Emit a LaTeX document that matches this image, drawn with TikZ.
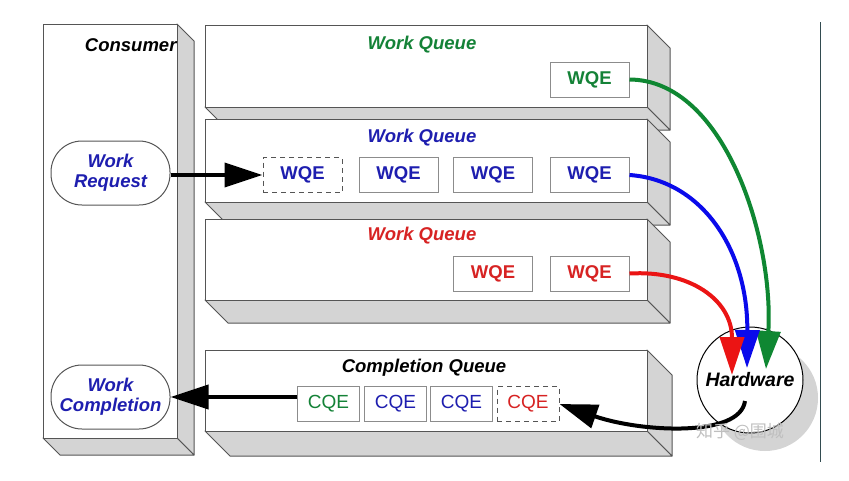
\documentclass[tikz,border=0pt]{standalone}
\usepackage{fontspec}
\setmainfont{Liberation Sans}
\newfontfamily\cjk{Noto Sans CJK SC}
\usetikzlibrary{arrows.meta}
\definecolor{qgreen}{RGB}{20,130,55}
\definecolor{qblue}{RGB}{30,30,175}
\definecolor{qred}{RGB}{215,35,35}
\definecolor{agreen}{RGB}{15,135,50}
\definecolor{ablue}{RGB}{10,10,235}
\definecolor{ared}{RGB}{235,20,20}
\definecolor{sidegray}{RGB}{212,212,212}
\definecolor{edgegray}{RGB}{85,85,85}
\definecolor{boxgray}{RGB}{140,140,140}
\newcommand\slabbox[5]{%
  \filldraw[fill=sidegray,draw=edgegray,line width=1pt,line join=round]
    (#3,#2) -- ++(#5,#5) -- (#3+#5,#4+#5) -- (#3,#4) -- cycle;
  \filldraw[fill=sidegray,draw=edgegray,line width=1pt,line join=round]
    (#1,#4) -- (#3,#4) -- (#3+#5,#4+#5) -- (#1+#5,#4+#5) -- cycle;
  \filldraw[fill=white,draw=edgegray,line width=1pt] (#1,#2) rectangle (#3,#4);
}
\tikzset{
  ttl/.style={font=\bfseries\itshape\fontsize{18.5}{20}\selectfont},
  elem/.style={draw=boxgray,line width=1pt,fill=white,minimum height=35pt,inner sep=0pt,
    font=\bfseries\fontsize{18.5}{20}\selectfont},
  welem/.style={elem,minimum width=79pt},
  celem/.style={elem,minimum width=62pt,font=\fontsize{19}{20}\selectfont},
  dashelem/.style={dash pattern=on 5pt off 4pt},
  pill/.style={draw=edgegray,line width=1pt,fill=white,rounded corners=31pt,
    minimum width=119pt,minimum height=64pt,inner sep=0pt,align=center,text=qblue,
    font=\bfseries\itshape\fontsize{18.5}{20}\selectfont},
  bigarrow/.style={line width=4pt,-{Triangle[length=38pt,width=24pt]}},
}
\begin{document}
\begin{tikzpicture}[x=1pt,y=-1pt]
\useasboundingbox (0,0) rectangle (849,480);
\fill[white] (0,0) rectangle (849,480);
% Consumer
\slabbox{43}{24}{177}{438}{17}
\node[ttl,anchor=east] (cons) at (180,45) {Consumer};
% Work queues
\slabbox{205}{25}{647}{107}{23}
\slabbox{205}{119}{647}{202}{23}
\slabbox{205}{219}{647}{300}{23}
\slabbox{205}{350}{647}{431}{25}
\node[ttl,text=qgreen] (wq1) at (422,45) {Work Queue};
\node[ttl,text=qblue] (wq2) at (422,138) {Work Queue};
\node[ttl,text=qred] (wq3) at (422,236) {Work Queue};
\node[ttl] (cq) at (424,368) {Completion Queue};
% elements
\node[welem,text=qgreen] (g1) at (589.5,79.5) {WQE};
\node[welem,text=qblue,draw=edgegray,dashelem] (b1) at (302.5,175) {WQE};
\node[welem,text=qblue] (b2) at (398.5,175) {WQE};
\node[welem,text=qblue] (b3) at (493,175) {WQE};
\node[welem,text=qblue] (b4) at (589.5,175) {WQE};
\node[welem,text=qred] (r1) at (493,273.5) {WQE};
\node[welem,text=qred] (r2) at (589.5,273.5) {WQE};
\node[celem,text=qgreen] (c1) at (328.5,404) {CQE};
\node[celem,text=qblue] (c2) at (395.5,404) {CQE};
\node[celem,text=qblue] (c3) at (461.5,404) {CQE};
\node[celem,text=qred,draw=edgegray,dashelem] (c4) at (528,404) {CQE};
% consumer pills
\node[pill] (wr) at (110.5,173) {Work\\Request};
\node[pill] (wc) at (110.5,397) {Work\\Completion};
% hardware
\fill[sidegray] (765,398) circle (53);
\node[circle,draw=black,line width=1pt,fill=white,minimum size=106pt,inner sep=0pt,
  font=\bfseries\itshape\fontsize{19.5}{20}\selectfont] (hw) at (750,380) {Hardware};
\coordinate (tr) at (732,375);
\coordinate (tb) at (747,368);
\coordinate (tg) at (766,369);
\coordinate (hwout) at (745,401);
% arrows
\draw[bigarrow] (wr.east |- b1.west) -- (b1.west);
\draw[bigarrow] (c1.west |- wc.east) -- (wc.east);
\draw[bigarrow,agreen] (g1.east) .. controls (725,80) and (774,240) .. (tg);
\draw[bigarrow,ablue] (b4.east) .. controls (702,180) and (748,250) .. (tb);
\draw[bigarrow,ared] (r2.east) .. controls (690,270) and (732,300) .. (tr);
\draw[bigarrow] (hwout) .. controls (740,438) and (640,432) .. (c4.east);
% watermark and frame line
\node[font=\cjk\fontsize{17}{17}\selectfont,text=gray!50] (wm) at (740,432) {知乎 @围城};
\draw[color={rgb,255:red,50;green,75;blue,80},line width=1pt] (820,22) -- (820,462);
\end{tikzpicture}
\end{document}
